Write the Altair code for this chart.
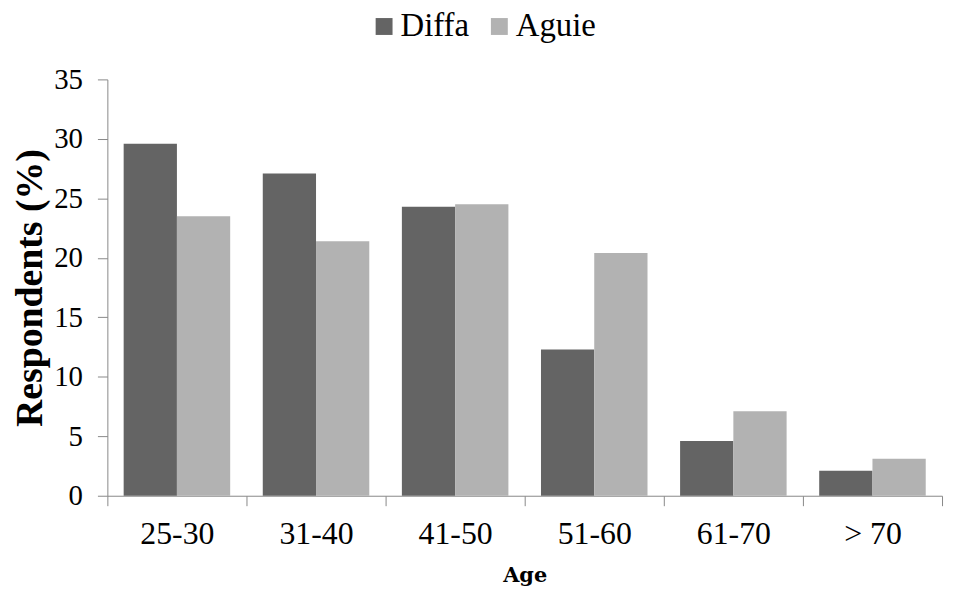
import altair as alt
import pandas as pd

ages = ["25-30", "31-40", "41-50", "51-60", "61-70", "> 70"]
diffa = [29.6, 27.1, 24.3, 12.3, 4.6, 2.1]
aguie = [23.5, 21.4, 24.5, 20.4, 7.1, 3.1]
series = ["Diffa", "Aguie"]
colors = ["#646464", "#b2b2b2"]

rows = []
for a, d, g in zip(ages, diffa, aguie):
    rows.append({"age": a, "site": "Diffa", "value": d})
    rows.append({"age": a, "site": "Aguie", "value": g})
df = pd.DataFrame(rows)

AX = "#888888"

chart = alt.Chart(df).mark_bar().encode(
    x=alt.X("age:N", sort=ages,
            scale=alt.Scale(paddingInner=0, paddingOuter=0),
            axis=alt.Axis(title="Age", labelAngle=0, tickBand="extent",
                          labelFont="Liberation Serif", labelFontSize=32,
                          labelColor="#000000", labelPadding=13,
                          tickSize=10, tickColor=AX, domainColor=AX,
                          titleFont="DejaVu Serif", titleFontSize=21,
                          titleFontWeight="bold", titleColor="#000000",
                          titlePadding=15)),
    xOffset=alt.XOffset("site:N", sort=series,
                        scale=alt.Scale(paddingInner=0, paddingOuter=0.306)),
    y=alt.Y("value:Q",
            scale=alt.Scale(domain=[0, 35], nice=False),
            axis=alt.Axis(title="Respondents (%)", values=[0, 5, 10, 15, 20, 25, 30, 35],
                          grid=False, labelFont="Liberation Serif", labelFontSize=29,
                          labelColor="#000000", labelPadding=15,
                          tickSize=10, tickColor=AX, domainColor=AX,
                          titleFont="Liberation Serif", titleFontSize=38,
                          titleFontWeight="bold", titleColor="#000000",
                          titlePadding=4)),
    color=alt.Color("site:N", sort=series,
                    scale=alt.Scale(domain=series, range=colors),
                    legend=alt.Legend(title=None, orient="none", direction="horizontal",
                                      legendX=262, legendY=-70, padding=0,
                                      symbolType="square", symbolSize=289,
                                      symbolStrokeWidth=0, labelFont="Liberation Serif",
                                      labelFontSize=33, labelColor="#000000",
                                      labelOffset=0, columnPadding=13)),
).properties(
    width=840, height=419,
    autosize=alt.AutoSizeParams(type="none"),
    padding={"left": 100, "top": 70, "right": 3, "bottom": 94},
).configure_view(stroke=None)

chart.save("out.html", embed_options={"renderer": "svg", "actions": False})
